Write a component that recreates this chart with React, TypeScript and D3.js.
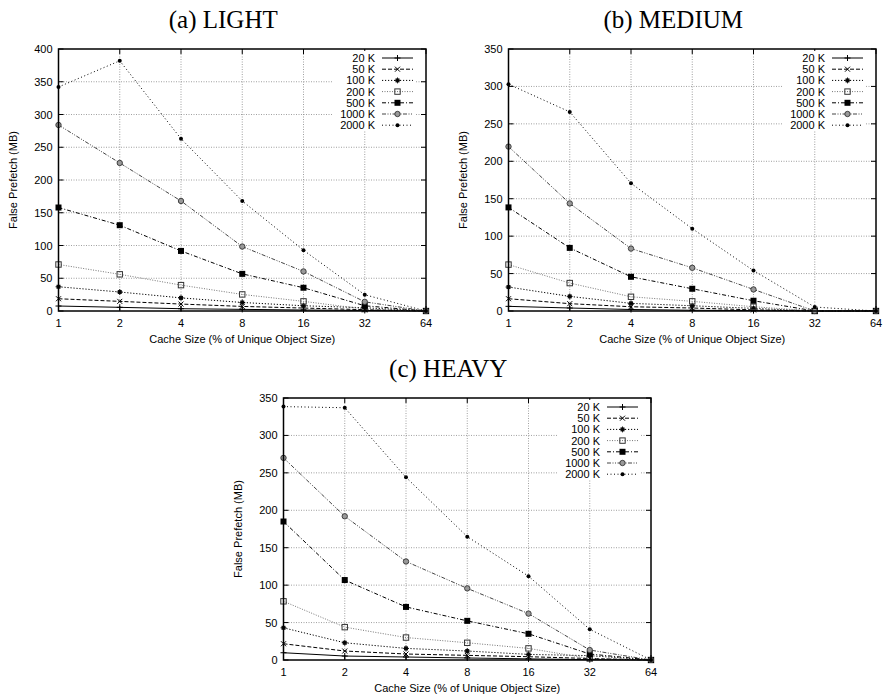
import React, { useRef, useEffect } from 'react'
import * as d3 from 'd3'

// cache sizes (% of unique object size) on the x axis
const cacheSizes = [1, 2, 4, 8, 16, 32, 64]
const seriesLabels = ['20 K', '50 K', '100 K', '200 K', '500 K', '1000 K', '2000 K']

// false prefetch (MB), one row per series
const lightValues = [
	[7.6, 5.6, 3.5, 2.5, 1.5, 0.8, 0],
	[18.7, 14.7, 10.6, 7, 4.5, 2, 0],
	[37, 29, 20, 13, 8, 5, 0],
	[71, 56, 39.5, 25.3, 14.7, 3, 0],
	[158, 131, 91.7, 56.7, 35.5, 8, 0],
	[284, 226, 168, 98.4, 60.4, 14, 0],
	[342, 382, 263, 168, 92.8, 24.8, 0],
]
const mediumValues = [
	[6.2, 4, 2, 1, 0.5, 0, 0],
	[16.4, 9.8, 5.7, 4, 1.5, 0, 0],
	[32, 19.5, 10.2, 7, 3.5, 0, 0],
	[62, 37.3, 19, 12.9, 5.7, 0, 0],
	[138.4, 84.3, 45.7, 29.7, 13.7, 0, 0],
	[219.6, 143.7, 83.4, 57.7, 28.8, 0, 0],
	[303, 266, 170.7, 110, 54, 5.3, 0],
]
const heavyValues = [
	[9.7, 5.3, 4, 2.7, 1.5, 0.5, 0],
	[21.7, 12, 8, 6.2, 4.4, 2, 0],
	[43, 23, 15.5, 12, 7.5, 5.8, 0],
	[78.4, 43.9, 30, 23, 15.5, 2, 0],
	[185, 106.8, 70.9, 52.3, 35, 8, 0],
	[270, 192, 131.6, 95.7, 62, 13.3, 0],
	[338.5, 337, 244, 164.8, 112, 41, 0],
]
const lightTicks = [0, 50, 100, 150, 200, 250, 300, 350, 400]
const otherTicks = [0, 50, 100, 150, 200, 250, 300, 350]

// line look per series (gnuplot dashed mono)
const dashes = ['none', '4,2', '1.2,1.8', '1,1.5', '4,2,1,2', '4,1.5,1,1.5,1,1.5', '1,2.5']
const strokes = ['#000', '#000', '#000', '#777', '#000', '#444', '#000']

const panels = [
	{ title: '(a) LIGHT', values: lightValues, ticks: lightTicks, max: 400, left: 58.5, top: 49 },
	{ title: '(b) MEDIUM', values: mediumValues, ticks: otherTicks, max: 350, left: 508.5, top: 49 },
	{ title: '(c) HEAVY', values: heavyValues, ticks: otherTicks, max: 350, left: 283.5, top: 398 },
]
const W = 367.5
const H = 262
const sans = '"Liberation Sans", Arial, sans-serif'

function drawMarker(g, k, x, y) {
	const s = 3
	if (k === 0) {
		g.append('path').attr('d', `M${x - s},${y}H${x + s}M${x},${y - s}V${y + s}`).attr('stroke', '#000').attr('stroke-width', 1)
	} else if (k === 1) {
		g.append('path').attr('d', `M${x - 2.5},${y - 2.5}L${x + 2.5},${y + 2.5}M${x - 2.5},${y + 2.5}L${x + 2.5},${y - 2.5}`).attr('stroke', '#000').attr('stroke-width', 1)
	} else if (k === 2) {
		g.append('rect').attr('x', x - 2).attr('y', y - 2).attr('width', 4).attr('height', 4).attr('fill', '#111')
		g.append('path').attr('d', `M${x - s},${y}H${x + s}M${x},${y - s}V${y + s}`).attr('stroke', '#000').attr('stroke-width', 0.8)
	} else if (k === 3) {
		g.append('rect').attr('x', x - 2.7).attr('y', y - 2.7).attr('width', 5.4).attr('height', 5.4).attr('fill', 'none').attr('stroke', '#333').attr('stroke-width', 1)
	} else if (k === 4) {
		g.append('rect').attr('x', x - 3).attr('y', y - 3).attr('width', 6).attr('height', 6).attr('fill', '#000')
	} else if (k === 5) {
		g.append('circle').attr('cx', x).attr('cy', y).attr('r', 2.7).attr('fill', '#999').attr('stroke', '#333').attr('stroke-width', 0.9)
	} else {
		g.append('circle').attr('cx', x).attr('cy', y).attr('r', 2).attr('fill', '#000')
	}
}

const App = () => {
	const svgRef = useRef(null)

	useEffect(() => {
		const svg = d3.select(svgRef.current)
		svg.selectAll('*').remove()

		panels.forEach(p => {
			const g = svg.append('g')
			const x = d3.scaleLog().base(2).domain([1, 64]).range([p.left, p.left + W])
			const y = d3.scaleLinear().domain([0, p.max]).range([p.top + H, p.top])

			// title
			g.append('text')
				.attr('x', p.left + W / 2 - 19)
				.attr('y', p.top - 21)
				.attr('text-anchor', 'middle')
				.attr('font-family', '"Liberation Serif", "DejaVu Serif", serif')
				.attr('font-size', 25)
				.text(p.title)

			// grid
			p.ticks.slice(1, -1).forEach(t => {
				g.append('line')
					.attr('x1', p.left).attr('x2', p.left + W)
					.attr('y1', y(t)).attr('y2', y(t))
					.attr('stroke', '#888').attr('stroke-width', 0.8).attr('stroke-dasharray', '1,1.5')
			})
			cacheSizes.slice(1, -1).forEach(c => {
				g.append('line')
					.attr('x1', x(c)).attr('x2', x(c))
					.attr('y1', p.top).attr('y2', p.top + H)
					.attr('stroke', '#888').attr('stroke-width', 0.8).attr('stroke-dasharray', '1,1.5')
			})

			// tick marks (inside, mirrored)
			p.ticks.forEach(t => {
				g.append('path')
					.attr('d', `M${p.left},${y(t)}h5M${p.left + W},${y(t)}h-5`)
					.attr('stroke', '#000').attr('stroke-width', 1)
				g.append('text')
					.attr('x', p.left - 6).attr('y', y(t) + 4)
					.attr('text-anchor', 'end')
					.attr('font-family', sans).attr('font-size', 11)
					.text(t)
			})
			cacheSizes.forEach(c => {
				g.append('path')
					.attr('d', `M${x(c)},${p.top + H}v-5M${x(c)},${p.top}v5`)
					.attr('stroke', '#000').attr('stroke-width', 1)
				g.append('text')
					.attr('x', x(c)).attr('y', p.top + H + 16)
					.attr('text-anchor', 'middle')
					.attr('font-family', sans).attr('font-size', 11)
					.text(c)
			})

			// axis titles
			g.append('text')
				.attr('x', p.left + W / 2).attr('y', p.top + H + 32)
				.attr('text-anchor', 'middle')
				.attr('font-family', sans).attr('font-size', 11)
				.text('Cache Size (% of Unique Object Size)')
			g.append('text')
				.attr('transform', `translate(${p.left - 42},${p.top + H / 2}) rotate(-90)`)
				.attr('text-anchor', 'middle')
				.attr('font-family', sans).attr('font-size', 11)
				.text('False Prefetch (MB)')

			// series
			const line = d3.line().x(d => x(d[0])).y(d => y(d[1])).curve(d3.curveLinear)
			p.values.forEach((vals, k) => {
				const pts = cacheSizes.map((c, i) => [c, vals[i]])
				g.append('path')
					.datum(pts)
					.attr('fill', 'none')
					.attr('stroke', strokes[k])
					.attr('stroke-width', 1)
					.attr('stroke-dasharray', dashes[k])
					.attr('d', line)
			})
			p.values.forEach((vals, k) => {
				vals.forEach((v, i) => drawMarker(g, k, x(cacheSizes[i]), y(v)))
			})

			// legend
			const right = p.left + W
			g.append('rect')
				.attr('x', right - 93).attr('y', p.top + 2)
				.attr('width', 82).attr('height', 80)
				.attr('fill', '#fff')
			seriesLabels.forEach((lab, k) => {
				const ly = p.top + 9 + k * 11.2
				g.append('text')
					.attr('x', right - 51).attr('y', ly + 4)
					.attr('text-anchor', 'end')
					.attr('font-family', sans).attr('font-size', 11)
					.text(lab)
				g.append('line')
					.attr('x1', right - 44).attr('x2', right - 13)
					.attr('y1', ly).attr('y2', ly)
					.attr('stroke', strokes[k]).attr('stroke-width', 1)
					.attr('stroke-dasharray', dashes[k])
				drawMarker(g, k, right - 28.5, ly)
			})

			// frame
			g.append('rect')
				.attr('x', p.left).attr('y', p.top)
				.attr('width', W).attr('height', H)
				.attr('fill', 'none').attr('stroke', '#000').attr('stroke-width', 1.5)
		})
	}, [])

	return (
		<svg
			ref={svgRef}
			width={885}
			height={696}
			style={{ position: 'absolute', left: 0, top: 0, background: '#fff' }}
		></svg>
	)
}

export default App
